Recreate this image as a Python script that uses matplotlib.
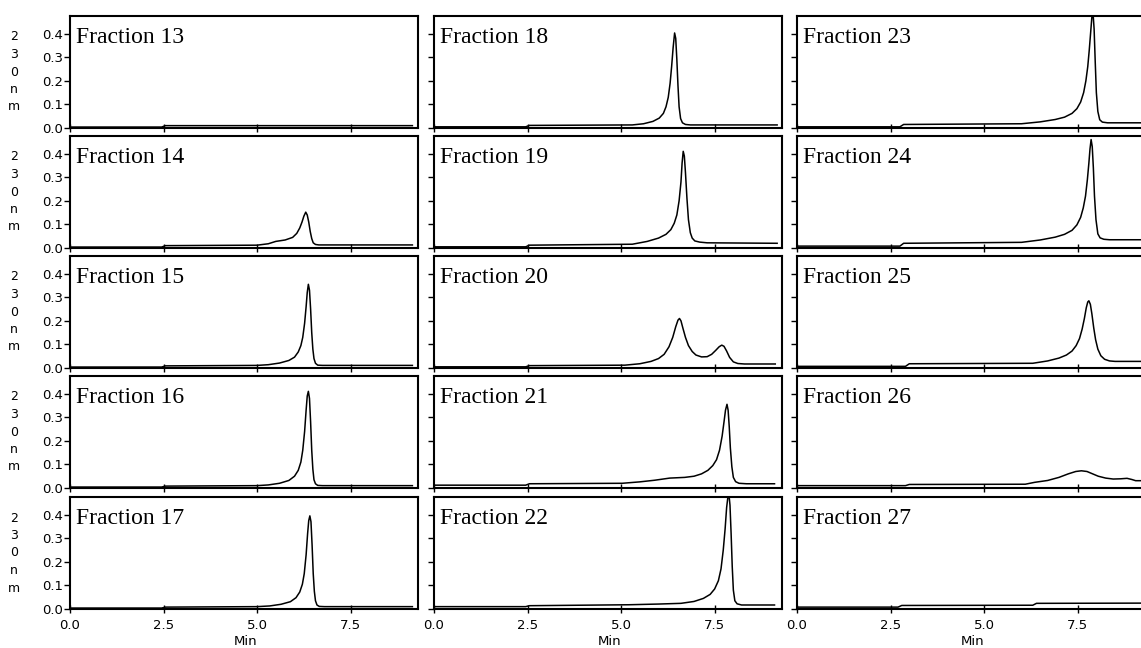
import matplotlib
matplotlib.use("Agg")
import matplotlib.pyplot as plt
from matplotlib.transforms import blended_transform_factory

# ---------------- data ----------------
fraction_labels = ["Fraction 13", "Fraction 14", "Fraction 15", "Fraction 16", "Fraction 17",
                   "Fraction 18", "Fraction 19", "Fraction 20", "Fraction 21", "Fraction 22",
                   "Fraction 23", "Fraction 24", "Fraction 25", "Fraction 26", "Fraction 27"]

x_ticks = [0.0, 2.5, 5.0, 7.5]
x_ticklabels = ["0.0", "2.5", "5.0", "7.5"]
y_ticks = [0.0, 0.1, 0.2, 0.3, 0.4]
y_ticklabels = ["0.0", "0.1", "0.2", "0.3", "0.4"]
y_label = "230nm"
x_label = "Min"

f13_t = [0.0, 2.45, 2.55, 9.15]
f13_a = [0.004, 0.004, 0.010, 0.010]

f14_t = [0, 2.45, 2.55, 5.0, 5.3, 5.5, 5.75, 5.95, 6.06, 6.14, 6.2, 6.25, 6.3, 6.34, 6.38, 6.42, 6.46, 6.5, 6.56, 6.65, 9.15]
f14_a = [.004, .004, .010, .012, .018, .028, .034, .045, .062, .085, .11, .135, .152, .14, .11, .07, .04, .022, .015, .013, .013]

f15_t = [0, 2.45, 2.55, 5.0, 5.3, 5.6, 5.85, 6.0, 6.1, 6.17, 6.22, 6.27, 6.31, 6.34, 6.37, 6.40, 6.43, 6.46, 6.49, 6.52, 6.56, 6.62, 6.75, 9.15]
f15_a = [.004, .004, .009, .011, .014, .021, .032, .046, .068, .095, .13, .19, .26, .32, .355, .33, .25, .15, .08, .04, .02, .012, .011, .011]

f16_t = [0, 2.45, 2.55, 5.0, 5.3, 5.6, 5.85, 6.0, 6.1, 6.17, 6.22, 6.27, 6.31, 6.34, 6.37, 6.40, 6.43, 6.46, 6.49, 6.52, 6.56, 6.62, 6.75, 9.15]
f16_a = [.004, .004, .008, .010, .013, .020, .032, .050, .075, .11, .16, .24, .33, .39, .41, .38, .28, .16, .08, .035, .018, .011, .010, .010]

f17_t = [0, 2.45, 2.55, 5.0, 5.34, 5.64, 5.89, 6.04, 6.14, 6.21, 6.26, 6.31, 6.35, 6.38, 6.41, 6.44, 6.47, 6.50, 6.53, 6.56, 6.60, 6.66, 6.8, 9.15]
f17_a = [.004, .004, .008, .010, .013, .020, .031, .048, .072, .105, .15, .23, .32, .375, .395, .37, .27, .15, .075, .035, .017, .011, .010, .010]

f18_t = [0, 2.45, 2.55, 5.3, 5.6, 5.85, 6.02, 6.13, 6.2, 6.26, 6.31, 6.35, 6.39, 6.43, 6.46, 6.49, 6.52, 6.55, 6.59, 6.64, 6.72, 6.85, 9.17]
f18_a = [.005, .005, .011, .013, .018, .028, .042, .062, .09, .13, .19, .26, .34, .403, .38, .29, .18, .09, .04, .022, .015, .013, .013]

f19_t = [0, 2.45, 2.55, 5.3, 5.7, 6.0, 6.2, 6.33, 6.42, 6.49, 6.55, 6.6, 6.63, 6.66, 6.69, 6.72, 6.76, 6.8, 6.85, 6.9, 6.97, 7.1, 7.3, 9.17]
f19_a = [.005, .005, .012, .016, .028, .042, .058, .078, .105, .14, .2, .28, .36, .41, .39, .32, .21, .12, .065, .042, .03, .025, .022, .020]

f20_t = [0, 2.45, 2.55, 5.1, 5.5, 5.8, 6.0, 6.15, 6.28, 6.38, 6.46, 6.52, 6.56, 6.6, 6.65, 6.72, 6.8, 6.9, 7.0, 7.15, 7.3, 7.42, 7.53, 7.62, 7.69, 7.75, 7.82, 7.9, 8.0, 8.12, 8.3, 9.12]
f20_a = [.005, .005, .010, .012, .018, .028, .040, .058, .09, .13, .175, .203, .21, .2, .17, .13, .095, .07, .055, .047, .048, .058, .075, .09, .097, .092, .072, .045, .026, .019, .017, .017]

f21_t = [0, 2.45, 2.55, 5.03, 5.5, 5.9, 6.3, 6.7, 6.95, 7.15, 7.32, 7.45, 7.55, 7.63, 7.7, 7.75, 7.79, 7.83, 7.86, 7.89, 7.92, 7.96, 8.0, 8.06, 8.15, 8.35, 9.1]
f21_a = [.012, .012, .018, .020, .026, .033, .042, .045, .05, .06, .075, .095, .12, .16, .22, .28, .33, .355, .33, .26, .17, .09, .045, .027, .02, .018, .018]

f22_t = [0, 2.45, 2.55, 5.2, 6.0, 6.6, 6.95, 7.2, 7.38, 7.5, 7.6, 7.67, 7.73, 7.78, 7.82, 7.85, 7.88, 7.91, 7.94, 7.97, 8.0, 8.04, 8.1, 8.22, 9.1]
f22_a = [.010, .010, .014, .018, .021, .024, .032, .045, .062, .085, .12, .17, .25, .34, .43, .47, .49, .44, .32, .18, .08, .035, .022, .017, .017]

f23_t = [0, 2.75, 2.85, 6.0, 6.5, 6.9, 7.15, 7.35, 7.48, 7.58, 7.66, 7.72, 7.77, 7.81, 7.85, 7.88, 7.91, 7.94, 7.97, 8.0, 8.04, 8.09, 8.16, 8.3, 9.4]
f23_a = [.005, .005, .015, .018, .026, .036, .046, .062, .082, .11, .15, .2, .26, .33, .41, .47, .49, .42, .28, .15, .07, .035, .025, .022, .022]

f24_t = [0, 2.75, 2.85, 6.0, 6.5, 6.9, 7.15, 7.35, 7.48, 7.58, 7.65, 7.71, 7.76, 7.8, 7.83, 7.86, 7.89, 7.92, 7.95, 7.99, 8.04, 8.1, 8.2, 8.35, 9.4]
f24_a = [.008, .008, .020, .024, .034, .046, .058, .075, .098, .13, .17, .22, .29, .36, .42, .46, .43, .34, .22, .12, .06, .043, .037, .035, .035]

f25_t = [0, 2.9, 3.0, 6.3, 6.7, 7.0, 7.2, 7.35, 7.46, 7.55, 7.62, 7.68, 7.73, 7.77, 7.8, 7.84, 7.88, 7.93, 7.98, 8.04, 8.12, 8.22, 8.35, 8.5, 9.4]
f25_a = [.007, .007, .018, .020, .030, .042, .055, .072, .095, .125, .165, .21, .255, .28, .285, .27, .23, .17, .12, .08, .052, .037, .03, .028, .028]

f26_t = [0, 2.9, 3.0, 6.1, 6.35, 6.7, 7.0, 7.25, 7.45, 7.6, 7.75, 7.9, 8.05, 8.25, 8.45, 8.65, 8.82, 8.95, 9.05, 9.4]
f26_a = [.010, .010, .015, .016, .024, .032, .045, .060, .070, .073, .07, .06, .05, .042, .038, .039, .041, .036, .031, .031]

f27_t = [0.0, 2.7, 2.8, 6.3, 6.4, 9.4]
f27_a = [0.008, 0.008, 0.015, 0.016, 0.024, 0.025]

traces = [(f13_t, f13_a), (f14_t, f14_a), (f15_t, f15_a), (f16_t, f16_a), (f17_t, f17_a),
          (f18_t, f18_a), (f19_t, f19_a), (f20_t, f20_a), (f21_t, f21_a), (f22_t, f22_a),
          (f23_t, f23_a), (f24_t, f24_a), (f25_t, f25_a), (f26_t, f26_a), (f27_t, f27_a)]

# ---------------- layout ----------------
W, H = 1141, 648
fig = plt.figure(figsize=(W / 100, H / 100), dpi=100)
fig.patch.set_facecolor("white")

col_left = [70, 434, 797]
row_bottom = [128, 248, 368, 488, 609]
ax_w, ax_h = 348, 112

tick_font = {"family": "DejaVu Sans", "size": 9.5}

for i, (label, (t, a)) in enumerate(zip(fraction_labels, traces)):
    c, r = divmod(i, 5)
    rect = [col_left[c] / W, 1 - row_bottom[r] / H, ax_w / W, ax_h / H]
    ax = fig.add_axes(rect)
    ax.plot(t, a, color="black", lw=1.1, solid_joinstyle="round")
    ax.set_xlim(0, 9.3)
    ax.set_ylim(0, 0.475)
    for s in ax.spines.values():
        s.set_linewidth(1.5)
        s.set_color("black")
    ax.set_yticks(y_ticks)
    ax.set_xticks(x_ticks)
    ax.tick_params(axis="y", direction="out", length=4, width=1.0, pad=1,
                   labelsize=9.5, labelleft=(c == 0))
    ax.tick_params(axis="x", direction="inout", length=6, width=1.0, pad=4,
                   labelsize=9.5, labelbottom=(r == 4))
    if c == 0:
        ax.set_yticklabels(y_ticklabels, fontdict=tick_font)
    if r == 4:
        ax.set_xticklabels(x_ticklabels, fontdict=tick_font)
        trans = blended_transform_factory(ax.transData, ax.transAxes)
        ax.text(4.7, -0.29, x_label, transform=trans, ha="center", va="center",
                fontsize=9.5, family="DejaVu Sans")
    if c == 0:
        trans = blended_transform_factory(fig.transFigure, ax.transAxes)
        ax.text(14 / W, 0.5, "\n".join(y_label), transform=trans, ha="center",
                va="center", fontsize=9, family="DejaVu Sans", linespacing=1.45)
    ax.text(0.018, 0.76, label, transform=ax.transAxes, fontsize=17,
            family="Liberation Serif", va="baseline", ha="left")

fig.savefig("out.png", dpi=100)
